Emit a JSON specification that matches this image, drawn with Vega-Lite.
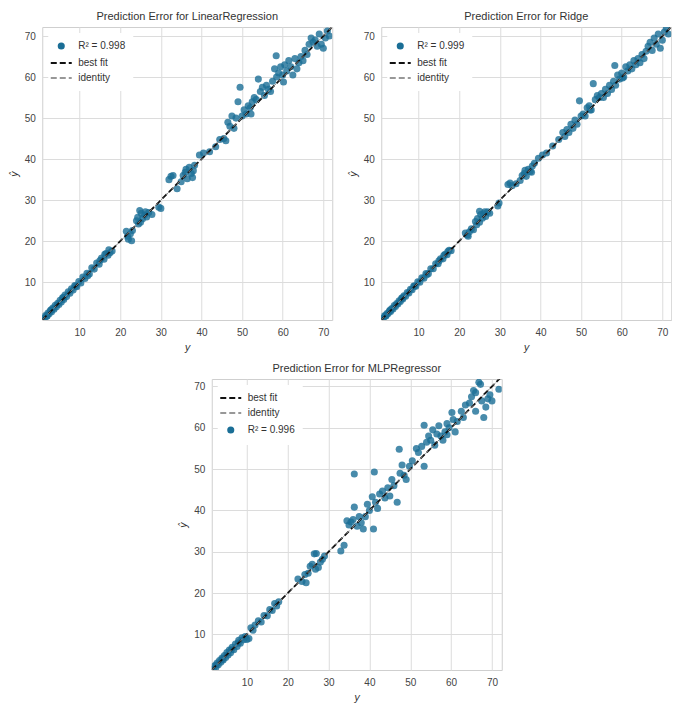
{
  "$schema": "https://vega.github.io/schema/vega-lite/v6.json",
  "padding": {"left": 8, "top": 10, "right": 0, "bottom": 0},
  "background": "white",
  "config": {
    "font": "Liberation Sans",
    "view": {"stroke": "#cfcfcf", "strokeWidth": 1},
    "axis": {"grid": true, "gridColor": "#dcdcdc", "gridWidth": 1, "domain": false, "ticks": false, "labelColor": "#444", "labelFontSize": 10, "labelFont": "Liberation Sans", "labelPadding": 7, "titleFont": "DejaVu Sans", "titleFontStyle": "italic", "titleFontWeight": "normal", "titleFontSize": 10, "titleColor": "#333", "titlePadding": 5},
    "title": {"fontSize": 11, "fontWeight": "normal", "color": "#333", "font": "Liberation Sans", "offset": 5},
    "legend": {"labelFont": "Liberation Sans", "labelFontSize": 10, "labelColor": "#333", "fillColor": "white", "padding": 8, "rowPadding": 5, "symbolSize": 440, "labelOffset": 12, "offset": 6}
  },
  "datasets": {
    "lr": [
      {"y":1.0,"p":1.2},{"y":1.3,"p":1.1},{"y":1.6,"p":1.9},{"y":1.9,"p":1.7},{"y":2.2,"p":2.5},{"y":2.5,"p":2.3},{"y":2.8,"p":3.1},{"y":3.1,"p":2.8},{"y":3.4,"p":3.7},{"y":3.7,"p":3.4},{"y":4.0,"p":4.4},{"y":4.3,"p":4.0},{"y":4.6,"p":4.9},{"y":4.9,"p":4.6},{"y":5.2,"p":5.6},{"y":5.5,"p":5.2},{"y":5.8,"p":6.2},{"y":6.1,"p":5.8},{"y":6.4,"p":6.9},{"y":6.8,"p":6.5},{"y":7.2,"p":7.7},{"y":7.6,"p":7.3},{"y":8.0,"p":8.4},{"y":8.4,"p":8.1},{"y":8.8,"p":9.2},{"y":9.3,"p":8.9},{"y":9.8,"p":10.2},{"y":10.3,"p":9.8},{"y":10.8,"p":11.3},{"y":11.3,"p":10.9},{"y":11.8,"p":12.2},{"y":12.4,"p":12.0},{"y":13.0,"p":13.5},{"y":13.6,"p":13.2},{"y":14.2,"p":14.7},{"y":14.8,"p":14.4},{"y":15.4,"p":15.9},{"y":16.0,"p":15.6},{"y":16.5,"p":17.0},{"y":17.0,"p":16.6},{"y":17.5,"p":17.2},{"y":18.0,"p":17.6},{"y":17.2,"p":17.9},{"y":16.2,"p":16.8},{"y":15.0,"p":15.3},{"y":12.0,"p":11.6},{"y":9.0,"p":9.0},{"y":6.0,"p":6.3},{"y":3.0,"p":3.3},{"y":2.0,"p":1.8},
      {"y":21.5,"p":22.4},{"y":22.0,"p":20.5},{"y":22.5,"p":21.8},{"y":23.0,"p":22.6},{"y":21.8,"p":21.2},{"y":22.8,"p":20.1},
      {"y":24.0,"p":25.0},{"y":24.3,"p":25.8},{"y":24.8,"p":27.5},{"y":25.2,"p":26.8},{"y":25.5,"p":25.5},{"y":26.0,"p":26.4},{"y":26.5,"p":25.9},{"y":27.0,"p":27.0},{"y":27.8,"p":26.5},{"y":25.0,"p":24.6},{"y":24.5,"p":24.2},{"y":26.2,"p":27.2},{"y":29.5,"p":28.3},{"y":30.0,"p":28.0},
      {"y":32.0,"p":35.0},{"y":32.5,"p":35.8},{"y":33.0,"p":36.0},{"y":34.0,"p":32.8},{"y":35.0,"p":34.5},{"y":35.5,"p":36.0},{"y":36.0,"p":36.8},{"y":36.5,"p":35.2},{"y":37.0,"p":38.0},{"y":37.5,"p":36.5},{"y":38.0,"p":37.2},{"y":37.8,"p":35.5},{"y":38.3,"p":38.5},{"y":36.2,"p":37.5},
      {"y":39.5,"p":41.0},{"y":40.5,"p":41.5},{"y":42.0,"p":41.8},{"y":43.5,"p":43.0},{"y":44.5,"p":44.8},{"y":45.5,"p":45.0},{"y":46.0,"p":44.5},{"y":46.5,"p":49.0},{"y":47.0,"p":48.0},{"y":47.5,"p":50.5},{"y":48.0,"p":47.5},{"y":48.5,"p":50.0},{"y":49.0,"p":54.0},{"y":49.5,"p":57.5},{"y":50.0,"p":50.5},{"y":50.5,"p":52.0},{"y":51.0,"p":51.0},{"y":51.5,"p":53.0},{"y":52.0,"p":52.5},{"y":52.5,"p":54.0},{"y":53.0,"p":55.0},{"y":53.5,"p":54.5},{"y":54.0,"p":59.5},{"y":54.5,"p":56.5},{"y":55.0,"p":57.5},{"y":55.5,"p":55.5},{"y":56.0,"p":58.0},{"y":56.5,"p":57.0},{"y":57.0,"p":56.5},{"y":57.5,"p":59.0},{"y":58.0,"p":62.0},{"y":58.4,"p":65.2},{"y":58.5,"p":60.0},{"y":59.0,"p":61.0},{"y":59.5,"p":62.5},{"y":60.0,"p":60.5},{"y":60.5,"p":63.0},{"y":61.0,"p":61.5},{"y":61.5,"p":64.0},{"y":62.0,"p":62.5},{"y":62.5,"p":60.5},{"y":63.0,"p":64.5},{"y":63.5,"p":62.0},{"y":64.0,"p":63.5},{"y":64.5,"p":65.0},{"y":65.0,"p":64.0},{"y":65.5,"p":66.5},{"y":66.5,"p":68.0},{"y":67.0,"p":69.5},{"y":67.5,"p":68.5},{"y":68.0,"p":69.0},{"y":68.5,"p":67.5},{"y":69.0,"p":70.5},{"y":69.5,"p":68.0},{"y":70.0,"p":67.0},{"y":70.5,"p":69.5},{"y":71.0,"p":71.2},{"y":71.5,"p":70.0},{"y":66.0,"p":65.5},{"y":60.2,"p":58.8},{"y":52.2,"p":51.0}
    ],
    "ridge": [
      {"y":1.0,"p":1.1},{"y":1.3,"p":1.2},{"y":1.6,"p":1.8},{"y":1.9,"p":1.8},{"y":2.2,"p":2.4},{"y":2.5,"p":2.4},{"y":2.8,"p":3.0},{"y":3.1,"p":2.9},{"y":3.4,"p":3.6},{"y":3.7,"p":3.5},{"y":4.0,"p":4.3},{"y":4.3,"p":4.1},{"y":4.6,"p":4.8},{"y":4.9,"p":4.7},{"y":5.2,"p":5.5},{"y":5.5,"p":5.3},{"y":5.8,"p":6.1},{"y":6.1,"p":5.9},{"y":6.4,"p":6.7},{"y":6.8,"p":6.6},{"y":7.2,"p":7.5},{"y":7.6,"p":7.4},{"y":8.0,"p":8.3},{"y":8.4,"p":8.2},{"y":8.8,"p":9.1},{"y":9.3,"p":9.0},{"y":9.8,"p":10.1},{"y":10.3,"p":10.0},{"y":10.8,"p":11.1},{"y":11.3,"p":11.0},{"y":11.8,"p":12.1},{"y":12.4,"p":12.1},{"y":13.0,"p":13.3},{"y":13.6,"p":13.3},{"y":14.2,"p":14.5},{"y":14.8,"p":14.5},{"y":15.4,"p":15.7},{"y":16.0,"p":15.7},{"y":16.5,"p":16.8},{"y":17.0,"p":16.7},{"y":17.5,"p":17.8},{"y":18.0,"p":17.7},{"y":17.2,"p":17.5},{"y":16.2,"p":16.5},{"y":15.0,"p":15.2},{"y":12.0,"p":11.8},{"y":9.0,"p":9.1},{"y":6.0,"p":6.2},{"y":3.0,"p":3.2},{"y":2.0,"p":1.9},
      {"y":21.5,"p":22.0},{"y":22.0,"p":21.5},{"y":22.5,"p":22.3},{"y":23.0,"p":23.0},{"y":22.2,"p":21.2},{"y":23.5,"p":22.8},
      {"y":24.0,"p":24.8},{"y":24.5,"p":25.5},{"y":25.0,"p":27.3},{"y":25.3,"p":26.5},{"y":25.7,"p":25.6},{"y":26.0,"p":26.7},{"y":26.5,"p":26.0},{"y":27.0,"p":27.2},{"y":27.5,"p":26.8},{"y":25.0,"p":24.6},{"y":24.3,"p":24.0},{"y":26.3,"p":27.2},{"y":29.5,"p":28.6},{"y":29.8,"p":29.3},
      {"y":32.0,"p":33.8},{"y":32.5,"p":34.2},{"y":33.0,"p":33.5},{"y":34.0,"p":34.0},{"y":35.0,"p":34.8},{"y":35.5,"p":36.0},{"y":36.0,"p":36.5},{"y":36.5,"p":35.8},{"y":37.0,"p":37.5},{"y":37.5,"p":37.0},{"y":38.0,"p":38.3},{"y":37.8,"p":36.8},{"y":38.5,"p":39.0},{"y":36.2,"p":37.3},
      {"y":39.5,"p":40.2},{"y":40.5,"p":41.0},{"y":41.5,"p":41.5},{"y":43.0,"p":43.2},{"y":44.5,"p":44.8},{"y":45.5,"p":46.5},{"y":46.0,"p":45.5},{"y":46.5,"p":47.2},{"y":47.0,"p":46.5},{"y":47.5,"p":48.5},{"y":48.0,"p":47.5},{"y":48.5,"p":49.5},{"y":49.0,"p":48.5},{"y":49.6,"p":54.2},{"y":50.0,"p":50.5},{"y":50.5,"p":51.0},{"y":51.0,"p":50.5},{"y":51.5,"p":52.5},{"y":52.0,"p":53.0},{"y":52.5,"p":52.0},{"y":53.0,"p":58.4},{"y":53.5,"p":54.5},{"y":54.0,"p":55.5},{"y":54.5,"p":55.0},{"y":55.0,"p":56.0},{"y":55.5,"p":55.0},{"y":56.0,"p":57.0},{"y":56.5,"p":56.0},{"y":57.0,"p":58.0},{"y":57.5,"p":57.0},{"y":58.0,"p":59.0},{"y":58.3,"p":62.8},{"y":58.5,"p":58.0},{"y":59.0,"p":60.5},{"y":59.5,"p":59.5},{"y":60.0,"p":61.0},{"y":60.5,"p":60.0},{"y":61.0,"p":62.5},{"y":61.5,"p":61.5},{"y":62.0,"p":63.0},{"y":62.5,"p":62.0},{"y":63.0,"p":64.0},{"y":63.5,"p":63.0},{"y":64.0,"p":64.5},{"y":64.5,"p":63.5},{"y":65.0,"p":65.5},{"y":65.5,"p":64.5},{"y":66.5,"p":67.5},{"y":67.0,"p":68.5},{"y":67.5,"p":66.5},{"y":68.0,"p":69.5},{"y":68.5,"p":68.0},{"y":69.0,"p":70.5},{"y":69.5,"p":67.0},{"y":70.0,"p":69.0},{"y":70.5,"p":71.0},{"y":71.0,"p":72.0},{"y":71.5,"p":70.5},{"y":66.0,"p":66.3},{"y":60.2,"p":59.8},{"y":52.2,"p":52.0}
    ],
    "mlp": [
      {"y":1.8,"p":1.6},{"y":2.1,"p":2.4},{"y":2.4,"p":2.0},{"y":2.7,"p":3.1},{"y":3.0,"p":2.7},{"y":3.3,"p":3.7},{"y":3.6,"p":3.3},{"y":3.9,"p":4.3},{"y":4.2,"p":3.8},{"y":4.5,"p":4.9},{"y":4.8,"p":4.4},{"y":5.1,"p":5.6},{"y":5.4,"p":5.0},{"y":5.7,"p":6.2},{"y":6.0,"p":5.6},{"y":6.4,"p":6.9},{"y":6.8,"p":6.3},{"y":7.2,"p":7.7},{"y":7.6,"p":7.1},{"y":8.0,"p":8.6},{"y":8.4,"p":7.9},{"y":8.8,"p":9.2},{"y":9.2,"p":8.7},{"y":10.0,"p":8.8},{"y":10.5,"p":9.0},{"y":11.0,"p":11.6},{"y":11.5,"p":11.0},{"y":12.0,"p":12.3},{"y":12.8,"p":13.3},{"y":13.5,"p":13.0},{"y":14.2,"p":14.6},{"y":15.0,"p":14.5},{"y":15.6,"p":16.0},{"y":16.2,"p":15.8},{"y":16.8,"p":17.5},{"y":17.3,"p":16.9},{"y":17.8,"p":17.9},{"y":4.0,"p":4.0},{"y":6.2,"p":6.3},{"y":9.6,"p":9.5},{"y":2.5,"p":2.6},{"y":7.9,"p":8.0},
      {"y":22.5,"p":23.4},{"y":23.5,"p":22.8},{"y":24.5,"p":22.5},{"y":25.0,"p":24.8},{"y":25.5,"p":26.5},{"y":26.0,"p":27.0},{"y":26.5,"p":29.5},{"y":27.0,"p":29.6},{"y":27.5,"p":26.2},{"y":28.0,"p":27.5},{"y":28.5,"p":28.2},{"y":29.0,"p":29.0},{"y":26.8,"p":25.8},{"y":24.2,"p":24.5},
      {"y":33.0,"p":30.2},{"y":33.8,"p":31.6},{"y":34.5,"p":37.5},{"y":35.0,"p":36.5},{"y":35.5,"p":37.2},{"y":36.0,"p":37.8},{"y":36.3,"p":40.8},{"y":36.3,"p":48.8},{"y":37.0,"p":36.2},{"y":37.5,"p":38.5},{"y":38.0,"p":37.0},{"y":38.5,"p":35.5},{"y":39.0,"p":38.5},{"y":39.5,"p":41.5},{"y":40.0,"p":40.0},{"y":40.7,"p":43.3},{"y":41.0,"p":35.5},{"y":41.2,"p":49.3},{"y":41.5,"p":42.0},{"y":42.0,"p":40.5},{"y":42.5,"p":44.0},{"y":43.2,"p":44.7},{"y":43.8,"p":43.0},{"y":44.5,"p":45.5},{"y":45.0,"p":43.5},{"y":45.5,"p":47.5},{"y":46.0,"p":46.0},{"y":46.8,"p":42.0},{"y":47.3,"p":54.8},{"y":47.5,"p":49.0},{"y":48.0,"p":51.0},{"y":48.5,"p":48.5},{"y":49.0,"p":47.5},{"y":49.8,"p":50.7},{"y":50.5,"p":52.0},{"y":51.5,"p":55.0},{"y":52.0,"p":54.0},{"y":52.8,"p":55.5},{"y":53.4,"p":50.7},{"y":53.4,"p":60.6},{"y":54.0,"p":56.5},{"y":54.5,"p":58.0},{"y":55.0,"p":57.0},{"y":55.5,"p":59.5},{"y":56.0,"p":55.8},{"y":56.5,"p":58.5},{"y":57.0,"p":60.5},{"y":57.5,"p":58.0},{"y":58.0,"p":57.0},{"y":58.5,"p":59.0},{"y":59.0,"p":61.0},{"y":59.5,"p":60.0},{"y":60.2,"p":63.7},{"y":60.5,"p":62.0},{"y":61.0,"p":59.0},{"y":61.5,"p":61.5},{"y":62.5,"p":64.0},{"y":63.5,"p":65.5},{"y":64.5,"p":66.0},{"y":65.0,"p":67.5},{"y":65.5,"p":69.0},{"y":66.0,"p":68.5},{"y":66.8,"p":71.0},{"y":67.2,"p":70.5},{"y":67.5,"p":66.5},{"y":68.0,"p":62.5},{"y":68.5,"p":65.0},{"y":69.0,"p":67.0},{"y":69.5,"p":68.0},{"y":70.0,"p":66.5},{"y":71.7,"p":69.3},{"y":66.0,"p":64.0},{"y":63.0,"p":62.5},{"y":59.0,"p":58.3}
    ],
    "lines1": [{"kind":"best fit","x":0.8,"y":0.8,"x2":72.2,"y2":72.2},{"kind":"identity","x":0.8,"y":0.8,"x2":72.2,"y2":72.2}],
    "lines3": [{"kind":"best fit","x":1.4,"y":1.4,"x2":72.2,"y2":72.2},{"kind":"identity","x":1.4,"y":1.4,"x2":72.2,"y2":72.2}]
  },
  "vconcat": [
    {
      "hconcat": [
        {
          "width": 290, "height": 293,
          "title": "Prediction Error for LinearRegression",
          "layer": [
            {
              "data": {"name": "lr"},
              "mark": {"type": "point", "filled": true, "size": 50, "opacity": 0.8, "clip": true},
              "encoding": {
                "x": {"field": "y", "type": "quantitative", "title": "y", "scale": {"domain": [0.8, 72.2], "nice": false, "zero": false}, "axis": {"values": [10,20,30,40,50,60,70]}},
                "y": {"field": "p", "type": "quantitative", "title": "ŷ", "scale": {"domain": [0.8, 72.2], "nice": false, "zero": false}, "axis": {"values": [10,20,30,40,50,60,70]}},
                "color": {"datum": "R² = 0.998", "type": "nominal",
                  "scale": {"domain": ["R² = 0.998", "best fit", "identity"], "range": ["#1a6e96", "#111111", "#777777"]},
                  "legend": {"title": null, "orient": "top-left",
                    "encoding": {"symbols": {
                      "shape": {"value": {"expr": "datum.value == 'best fit' || datum.value == 'identity' ? 'stroke' : 'circle'"}},
                      "size": {"value": {"expr": "datum.value == 'best fit' || datum.value == 'identity' ? 440 : 50"}},
                      "stroke": {"value": {"expr": "datum.value == 'best fit' ? '#111111' : datum.value == 'identity' ? '#777777' : 'transparent'"}},
                      "strokeWidth": {"value": {"expr": "datum.value == 'best fit' ? 2 : 1.3"}},
                      "strokeDash": {"value": [6,3]},
                      "fill": {"value": {"expr": "datum.value == 'best fit' || datum.value == 'identity' ? 'transparent' : '#3d8cb3'"}},
                      "opacity": {"value": 1}
                    }}}
                }
              }
            },
            {
              "data": {"name": "lines1"},
              "mark": {"type": "rule", "clip": true},
              "encoding": {
                "x": {"field": "x", "type": "quantitative"},
                "y": {"field": "y", "type": "quantitative"},
                "x2": {"field": "x2"},
                "y2": {"field": "y2"},
                "stroke": {"field": "kind", "type": "nominal", "scale": {"domain": ["best fit", "identity"], "range": ["#111111", "#888888"]}, "legend": null},
                "strokeWidth": {"field": "kind", "type": "nominal", "scale": {"domain": ["best fit", "identity"], "range": [1.8, 1.0]}, "legend": null},
                "strokeDash": {"field": "kind", "type": "nominal", "scale": {"domain": ["best fit", "identity"], "range": [[6,3],[4,4]]}, "legend": null}
              }
            }
          ],
          "resolve": {"scale": {"color": "independent", "stroke": "independent"}}
        },
        {
          "width": 290, "height": 293,
          "title": "Prediction Error for Ridge",
          "layer": [
            {
              "data": {"name": "ridge"},
              "mark": {"type": "point", "filled": true, "size": 50, "opacity": 0.8, "clip": true},
              "encoding": {
                "x": {"field": "y", "type": "quantitative", "title": "y", "scale": {"domain": [0.8, 72.2], "nice": false, "zero": false}, "axis": {"values": [10,20,30,40,50,60,70]}},
                "y": {"field": "p", "type": "quantitative", "title": "ŷ", "scale": {"domain": [0.8, 72.2], "nice": false, "zero": false}, "axis": {"values": [10,20,30,40,50,60,70]}},
                "color": {"datum": "R² = 0.999", "type": "nominal",
                  "scale": {"domain": ["R² = 0.999", "best fit", "identity"], "range": ["#1a6e96", "#111111", "#777777"]},
                  "legend": {"title": null, "orient": "top-left",
                    "encoding": {"symbols": {
                      "shape": {"value": {"expr": "datum.value == 'best fit' || datum.value == 'identity' ? 'stroke' : 'circle'"}},
                      "size": {"value": {"expr": "datum.value == 'best fit' || datum.value == 'identity' ? 440 : 50"}},
                      "stroke": {"value": {"expr": "datum.value == 'best fit' ? '#111111' : datum.value == 'identity' ? '#777777' : 'transparent'"}},
                      "strokeWidth": {"value": {"expr": "datum.value == 'best fit' ? 2 : 1.3"}},
                      "strokeDash": {"value": [6,3]},
                      "fill": {"value": {"expr": "datum.value == 'best fit' || datum.value == 'identity' ? 'transparent' : '#3d8cb3'"}},
                      "opacity": {"value": 1}
                    }}}
                }
              }
            },
            {
              "data": {"name": "lines1"},
              "mark": {"type": "rule", "clip": true},
              "encoding": {
                "x": {"field": "x", "type": "quantitative"},
                "y": {"field": "y", "type": "quantitative"},
                "x2": {"field": "x2"},
                "y2": {"field": "y2"},
                "stroke": {"field": "kind", "type": "nominal", "scale": {"domain": ["best fit", "identity"], "range": ["#111111", "#888888"]}, "legend": null},
                "strokeWidth": {"field": "kind", "type": "nominal", "scale": {"domain": ["best fit", "identity"], "range": [1.8, 1.0]}, "legend": null},
                "strokeDash": {"field": "kind", "type": "nominal", "scale": {"domain": ["best fit", "identity"], "range": [[6,3],[4,4]]}, "legend": null}
              }
            }
          ],
          "resolve": {"scale": {"color": "independent", "stroke": "independent"}}
        }
      ],
      "spacing": 14,
      "resolve": {"scale": {"color": "independent", "stroke": "independent", "strokeWidth": "independent", "strokeDash": "independent"}, "legend": {"color": "independent"}}
    },
    {
      "width": 290, "height": 291,
      "title": "Prediction Error for MLPRegressor",
      "layer": [
        {
          "data": {"name": "mlp"},
          "mark": {"type": "point", "filled": true, "size": 50, "opacity": 0.8, "clip": true},
          "encoding": {
            "x": {"field": "y", "type": "quantitative", "title": "y", "scale": {"domain": [1.4, 72.4], "nice": false, "zero": false}, "axis": {"values": [10,20,30,40,50,60,70]}},
            "y": {"field": "p", "type": "quantitative", "title": "ŷ", "scale": {"domain": [1.4, 71.8], "nice": false, "zero": false}, "axis": {"values": [10,20,30,40,50,60,70]}},
            "color": {"datum": "R² = 0.996", "type": "nominal",
              "scale": {"domain": ["best fit", "identity", "R² = 0.996"], "range": ["#111111", "#777777", "#1a6e96"]},
              "legend": {"title": null, "orient": "top-left",
                "encoding": {"symbols": {
                  "shape": {"value": {"expr": "datum.value == 'best fit' || datum.value == 'identity' ? 'stroke' : 'circle'"}},
                  "size": {"value": {"expr": "datum.value == 'best fit' || datum.value == 'identity' ? 440 : 50"}},
                  "stroke": {"value": {"expr": "datum.value == 'best fit' ? '#111111' : datum.value == 'identity' ? '#777777' : 'transparent'"}},
                  "strokeWidth": {"value": {"expr": "datum.value == 'best fit' ? 2 : 1.3"}},
                  "strokeDash": {"value": [6,3]},
                  "fill": {"value": {"expr": "datum.value == 'best fit' || datum.value == 'identity' ? 'transparent' : '#3d8cb3'"}},
                  "opacity": {"value": 1}
                }}}
            }
          }
        },
        {
          "data": {"name": "lines3"},
          "mark": {"type": "rule", "clip": true},
          "encoding": {
            "x": {"field": "x", "type": "quantitative"},
            "y": {"field": "y", "type": "quantitative"},
            "x2": {"field": "x2"},
            "y2": {"field": "y2"},
            "stroke": {"field": "kind", "type": "nominal", "scale": {"domain": ["best fit", "identity"], "range": ["#111111", "#888888"]}, "legend": null},
            "strokeWidth": {"field": "kind", "type": "nominal", "scale": {"domain": ["best fit", "identity"], "range": [1.8, 1.0]}, "legend": null},
            "strokeDash": {"field": "kind", "type": "nominal", "scale": {"domain": ["best fit", "identity"], "range": [[6,3],[4,4]]}, "legend": null}
          }
        }
      ],
      "resolve": {"scale": {"color": "independent", "stroke": "independent"}}
    }
  ],
  "center": true,
  "spacing": 9,
  "resolve": {"scale": {"color": "independent", "stroke": "independent", "strokeWidth": "independent", "strokeDash": "independent"}, "legend": {"color": "independent"}}
}
